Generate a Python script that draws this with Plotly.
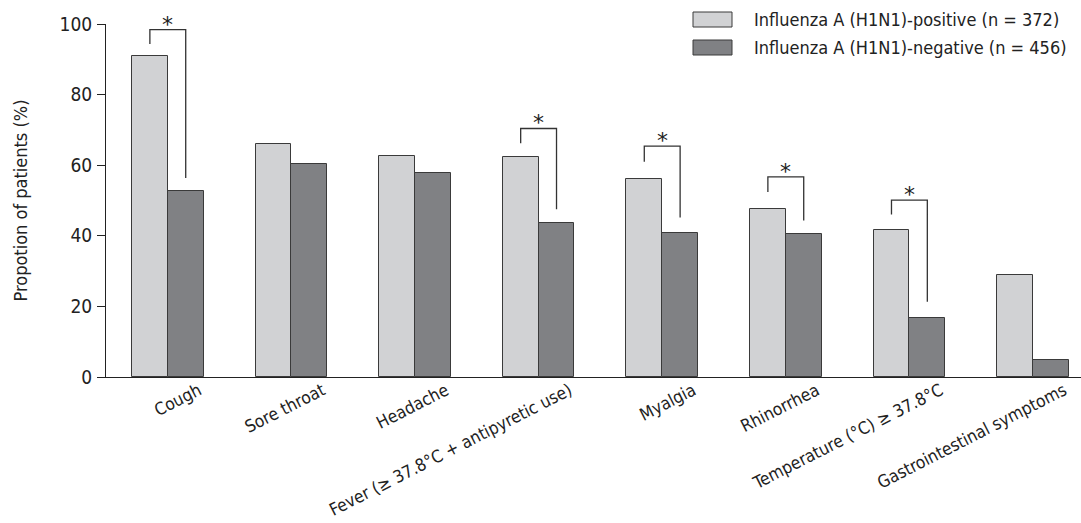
import plotly.graph_objects as go

categories = ["Cough", "Sore throat", "Headache", "Fever (≥ 37.8°C + antipyretic use)",
              "Myalgia", "Rhinorrhea", "Temperature (°C) ≥ 37.8°C", "Gastrointestinal symptoms"]
positive = [91.0, 66.0, 62.6, 62.3, 56.1, 47.7, 41.6, 29.0]
negative = [52.7, 60.4, 57.8, 43.5, 40.7, 40.5, 16.6, 4.9]
series_names = ["Influenza A (H1N1)-positive (n = 372)", "Influenza A (H1N1)-negative (n = 456)"]

# significance brackets (category index, bracket top, left arm end, right arm end)
sig_index = [0, 3, 4, 5, 6]
sig_top = [98.4, 70.4, 65.4, 56.7, 50.1]
sig_left_end = [94.3, 66.2, 61.0, 52.4, 46.0]
sig_right_end = [56.4, 47.5, 45.2, 44.3, 21.3]

y_ticks = [0, 20, 40, 60, 80, 100]

LIGHT = "#d1d2d4"
DARK = "#808184"
EDGE = "#3a3a3a"
FONT = "DejaVu Sans Condensed, Liberation Sans Narrow, sans-serif"

W, H = 1081, 523
L, R, T, B = 106, 0, 24, 146
BW = 0.29

xs = list(range(len(categories)))
fig = go.Figure()
fig.add_trace(go.Bar(x=xs, y=positive, width=BW, offset=-BW, name=series_names[0],
                     marker=dict(color=LIGHT, line=dict(color=EDGE, width=1)), showlegend=False))
fig.add_trace(go.Bar(x=xs, y=negative, width=BW, offset=0, name=series_names[1],
                     marker=dict(color=DARK, line=dict(color=EDGE, width=1)), showlegend=False))

# brackets
bx, by = [], []
for i, top, le, re in zip(sig_index, sig_top, sig_left_end, sig_right_end):
    bx += [i - BW / 2, i - BW / 2, i + BW / 2, i + BW / 2, None]
    by += [le, top, top, re, None]
fig.add_trace(go.Scatter(x=bx, y=by, mode="lines", line=dict(color="#333333", width=1.3),
                         cliponaxis=False, showlegend=False, hoverinfo="skip"))

annotations = []
for i, top in zip(sig_index, sig_top):
    annotations.append(dict(x=i, y=top, xref="x", yref="y", text="*", showarrow=False,
                            xanchor="center", yanchor="bottom", yshift=-9,
                            font=dict(family="DejaVu Sans", size=22, color="#222222")))

pw = W - L - R
ph = H - T - B
def px_x(p):
    return (p - L) / pw
def px_y(p):
    return (H - B - p) / ph

shapes = []
legend_boxes = [(12, 27, LIGHT), (40, 55, DARK)]
for (y0, y1, c), name in zip(legend_boxes, series_names):
    shapes.append(dict(type="rect", xref="paper", yref="paper",
                       x0=px_x(693), x1=px_x(732), y0=px_y(y1), y1=px_y(y0),
                       fillcolor=c, line=dict(color=EDGE, width=1)))
    annotations.append(dict(x=px_x(752), y=px_y((y0 + y1) / 2), xref="paper", yref="paper",
                            text=name, showarrow=False, xanchor="left", yanchor="middle",
                            font=dict(family=FONT, size=18, color="#222222")))

fig.update_layout(
    width=W, height=H,
    margin=dict(l=L, r=R, t=T, b=B),
    paper_bgcolor="white", plot_bgcolor="white",
    font=dict(family=FONT, size=18, color="#222222"),
    shapes=shapes, annotations=annotations,
    bargap=0, barmode="overlay",
)
fig.update_xaxes(range=[-0.5, -0.5 + pw / 123.6], tickmode="array", tickvals=xs, ticktext=categories,
                 tickangle=-27, ticks="", showline=True, linecolor="#222222", linewidth=1,
                 showgrid=False, zeroline=False, ticklabelshift=31, ticklabelstandoff=-4,
                 automargin=False,
                 tickfont=dict(family=FONT, size=17.3, color="#222222"))
fig.update_yaxes(range=[0, 100], tickmode="array", tickvals=y_ticks, ticks="outside", ticklen=8,
                 tickcolor="#222222", showline=True, linecolor="#222222", linewidth=1,
                 showgrid=False, zeroline=False, ticklabelstandoff=1, automargin=False,
                 tickfont=dict(family=FONT, size=19, color="#222222"),
                 title=dict(text="Propotion of patients (%)", standoff=27,
                            font=dict(family=FONT, size=18, color="#222222")))

fig.write_html("out.html", config={"displayModeBar": False},
               post_script="document.body.style.margin='0';document.body.style.overflow='hidden';")
